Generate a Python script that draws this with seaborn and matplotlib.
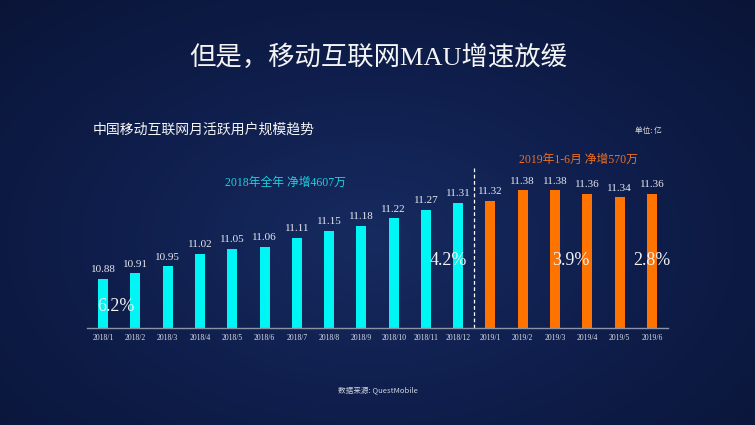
import numpy as np
import pandas as pd
import matplotlib
matplotlib.use("Agg")
import matplotlib.pyplot as plt
import seaborn as sns
from matplotlib.colors import LinearSegmentedColormap

# ---- data ----
months = ["2018/1", "2018/2", "2018/3", "2018/4", "2018/5", "2018/6",
          "2018/7", "2018/8", "2018/9", "2018/10", "2018/11", "2018/12",
          "2019/1", "2019/2", "2019/3", "2019/4", "2019/5", "2019/6"]
mau = [10.88, 10.91, 10.95, 11.02, 11.05, 11.06, 11.11, 11.15, 11.18,
       11.22, 11.27, 11.31, 11.32, 11.38, 11.38, 11.36, 11.34, 11.36]
year_group = ["2018"] * 12 + ["2019"] * 6
growth_labels = ["6.2%", "4.2%", "3.9%", "2.8%"]
growth_pos = [0.4, 10.7, 14.5, 17.0]   # bar index positions of growth labels
growth_y = [10.72, 10.98, 10.98, 10.98]

title = "但是，移动互联网MAU增速放缓"
subtitle = "中国移动互联网月活跃用户规模趋势"
unit = "单位: 亿"
note_2018 = "2018年全年 净增4607万"
note_2019 = "2019年1-6月 净增570万"
source = "数据来源: QuestMobile"

df = pd.DataFrame({"month": months, "mau": mau, "year": year_group})

sns.set_theme(style="white")
plt.rcParams["font.family"] = ["Noto Sans CJK SC", "DejaVu Sans"]
SERIF = ["Liberation Serif", "Noto Sans CJK SC"]

fig = plt.figure(figsize=(7.55, 4.25), dpi=100)

# background gradient
bg = fig.add_axes([0, 0, 1, 1], zorder=-10)
yy, xx = np.mgrid[0:425, 0:755]
r = np.sqrt(((xx - 370) / 520.0) ** 2 + ((yy - 240) / 330.0) ** 2)
cmap = LinearSegmentedColormap.from_list("bg", ["#172b60", "#0f1e4c", "#0a1538"])
bg.imshow(np.clip(r, 0, 1), cmap=cmap, aspect="auto", vmin=0, vmax=1,
          extent=[0, 1, 0, 1], origin="upper")
bg.set_axis_off()

ax = fig.add_axes([87 / 755, (425 - 328) / 425, 581 / 755, 159 / 425])
ax.patch.set_alpha(0)
sns.barplot(data=df, x="month", y="mau", hue="year", dodge=False,
            palette={"2018": "#00f5f5", "2019": "#ff7300"}, width=0.31,
            legend=False, ax=ax, saturation=1, linewidth=0, edgecolor="none")
ax.set_xlim(-0.5, 17.5)
ax.set_ylim(10.6, 11.5)
ax.set_xlabel("")
ax.set_ylabel("")
ax.set_yticks([])
for s in ["top", "right", "left"]:
    ax.spines[s].set_visible(False)
ax.spines["bottom"].set_color("#8a93a8")
ax.spines["bottom"].set_linewidth(1.0)
ax.tick_params(axis="x", length=0, pad=4, labelsize=5.5, colors="#dde0ea")
for lbl in ax.get_xticklabels():
    lbl.set_fontfamily(SERIF)

# value labels
for i, v in enumerate(mau):
    ax.text(i, v + 0.025, f"{v:.2f}", ha="center", va="bottom",
            fontsize=8, color="#e6e8ef", family=SERIF)

# growth labels
for p, yv, t in zip(growth_pos, growth_y, growth_labels):
    ax.text(p, yv, t, ha="center", va="center", fontsize=13,
            color="#f2f2f2", family=SERIF)

# divider
ax.axvline(11.5, ymin=0, ymax=(11.5 - 10.6) / 0.9 + 0.02, color="white",
           linestyle=(0, (3, 2)), linewidth=0.9, clip_on=False)

# notes
fig.text(285 / 755, 1 - 183 / 425, note_2018, ha="center", va="center",
         fontsize=8.5, color="#1fd0e0", family=SERIF)
fig.text(578 / 755, 1 - 160 / 425, note_2019, ha="center", va="center",
         fontsize=8.5, color="#f07020", family=SERIF)

# titles
fig.text(378 / 755, 1 - 57 / 425, title, ha="center", va="center",
         fontsize=19, color="#f4f4f4", family=SERIF)
fig.text(93 / 755, 1 - 130 / 425, subtitle, ha="left", va="center",
         fontsize=10, color="#f4f4f4")
fig.text(662 / 755, 1 - 131 / 425, unit, ha="right", va="center",
         fontsize=5.5, color="#e0e0e0")
fig.text(378 / 755, 1 - 391 / 425, source, ha="center", va="center",
         fontsize=5.5, color="#d0d4de")

fig.savefig("out.png", dpi=100)
